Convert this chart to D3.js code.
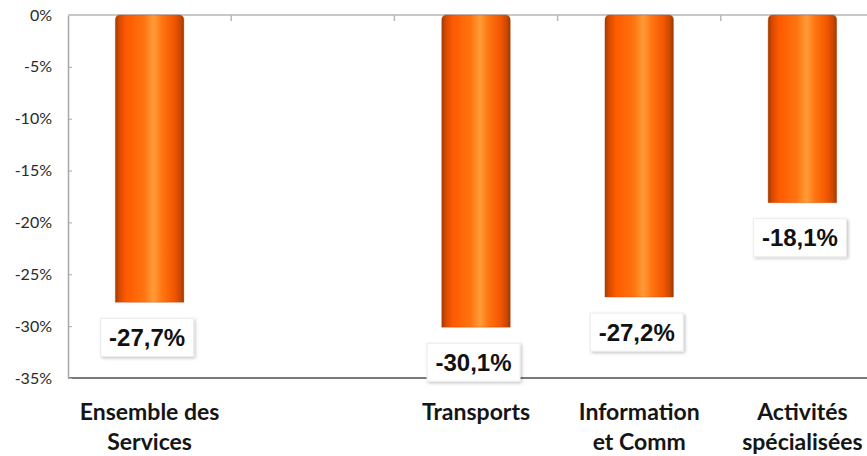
<!DOCTYPE html>
<html>
<head>
<meta charset="utf-8">
<script src="https://cdn.jsdelivr.net/npm/d3@7"></script>
<style>
  html, body { margin: 0; padding: 0; background: #fff; }
  svg { display: block; }
</style>
</head>
<body>
<svg id="chart" width="867" height="456"></svg>
<script>
// Sector categories (the blank one is an empty slot on the axis)
const categories = ["Ensemble des\nServices", " ", "Transports", "Information\net Comm", "Activités\nspécialisées"];
// Change in %, null where the slot has no bar
const values = [-27.7, null, -30.1, -27.2, -18.1];
// Value-axis tick values and their labels
const yTicks = [0, -5, -10, -15, -20, -25, -30, -35];
const yTickLabels = ["0%", "-5%", "-10%", "-15%", "-20%", "-25%", "-30%", "-35%"];

const svg = d3.select("#chart");
const W = 867;
const plotLeft = 68, plotRight = 884, plotTop = 15, plotBottom = 378;

const x = d3.scaleBand()
  .domain(categories)
  .range([plotLeft, plotRight])
  .paddingInner(0.58)
  .paddingOuter(0.29);

const y = d3.scaleLinear().domain([0, -35]).range([plotTop, plotBottom]);

// Cylinder-like horizontal shading for the bars
const defs = svg.append("defs");
const grad = defs.append("linearGradient").attr("id", "barGrad")
  .attr("x1", "0%").attr("x2", "100%").attr("y1", "0%").attr("y2", "0%");
[
  [0, "#a33a00"], [0.06, "#d84a00"], [0.16, "#ff5a00"], [0.42, "#ff7410"],
  [0.56, "#ff9c38"], [0.68, "#ff7612"], [0.86, "#f25600"], [0.95, "#c84800"], [1, "#9a3a00"]
].forEach(([o, c]) => grad.append("stop").attr("offset", o).attr("stop-color", c));

const shadow = defs.append("filter").attr("id", "boxShadow")
  .attr("x", "-20%").attr("y", "-20%").attr("width", "140%").attr("height", "140%");
shadow.append("feDropShadow").attr("dx", 1.5).attr("dy", 1.5).attr("stdDeviation", 1.5)
  .attr("flood-color", "#000").attr("flood-opacity", 0.22);

// Bottom frame line at -35%
svg.append("line")
  .attr("x1", plotLeft).attr("x2", W).attr("y1", y(-35)).attr("y2", y(-35))
  .attr("stroke", "#7a7a7a").attr("stroke-width", 2);

// Left value axis
const yAxis = d3.axisLeft(y)
  .tickValues(yTicks)
  .tickFormat((d, i) => yTickLabels[i])
  .tickSizeInner(-4).tickSizeOuter(0).tickPadding(16);
const gy = svg.append("g").attr("transform", `translate(${plotLeft},0)`).call(yAxis);
gy.select(".domain").attr("stroke", "#a8a8a8").attr("stroke-width", 1.5);
gy.selectAll(".tick line").attr("stroke", "#a8a8a8");
gy.selectAll(".tick text")
  .attr("font-family", "Lato, 'Open Sans', sans-serif")
  .attr("font-size", 16).attr("fill", "#2a2a2a");

// Top category axis at 0%
const boundaries = categories.map(c => x(c) - x.step() * x.paddingInner() / 2);
svg.append("line")
  .attr("x1", plotLeft).attr("x2", W).attr("y1", y(0)).attr("y2", y(0))
  .attr("stroke", "#c8c8c8").attr("stroke-width", 2);
svg.append("g").selectAll("line").data(boundaries.slice(1)).join("line")
  .attr("x1", d => d).attr("x2", d => d)
  .attr("y1", y(0)).attr("y2", y(0) + 6)
  .attr("stroke", "#b8b8b8").attr("stroke-width", 1.5);

// Bars hanging down from 0 with rounded top corners
const data = categories.map((c, i) => ({ c, v: values[i] })).filter(d => d.v !== null);
const r = 5;
svg.append("g").selectAll("path").data(data).join("path")
  .attr("d", d => {
    const x0 = x(d.c), x1 = x0 + x.bandwidth(), y0 = y(0), y1 = y(d.v);
    return `M${x0},${y1} L${x0},${y0 + r} Q${x0},${y0} ${x0 + r},${y0} L${x1 - r},${y0} Q${x1},${y0} ${x1},${y0 + r} L${x1},${y1} Z`;
  })
  .attr("fill", "url(#barGrad)")
  .attr("stroke", "#b04a10").attr("stroke-width", 0.6).attr("stroke-opacity", 0.6);

// Value labels in white boxes below each bar
const fmt = v => (v.toFixed(1).replace(".", ",")) + "%";
const boxW = 93, boxH = 38, gap = 16;
const labels = svg.append("g").selectAll("g").data(data).join("g")
  .attr("transform", d => `translate(${x(d.c) + x.bandwidth() / 2 - 2.5},${y(d.v) + gap})`);
labels.append("rect")
  .attr("x", -boxW / 2).attr("y", 0).attr("width", boxW).attr("height", boxH)
  .attr("fill", "#fff").attr("stroke", "#ececec").attr("stroke-width", 1)
  .attr("filter", "url(#boxShadow)");
labels.append("text")
  .attr("x", 0).attr("y", 27.5)
  .attr("text-anchor", "middle")
  .attr("font-family", "'Liberation Sans', Arial, sans-serif")
  .attr("font-weight", "bold").attr("font-size", 24).attr("fill", "#111")
  .text(d => fmt(d.v));

// Category names below the chart
const cat = svg.append("g").selectAll("text").data(categories).join("text")
  .attr("x", c => x(c) + x.bandwidth() / 2)
  .attr("y", 420)
  .attr("text-anchor", "middle")
  .attr("font-family", "Lato, 'Open Sans', sans-serif")
  .attr("font-weight", "bold").attr("font-size", 23).attr("fill", "#151515");
cat.each(function (c) {
  const lines = c.trim().split("\n");
  d3.select(this).selectAll("tspan").data(lines).join("tspan")
    .attr("x", x(c) + x.bandwidth() / 2)
    .attr("dy", (d, i) => i === 0 ? 0 : 30)
    .text(d => d);
});
</script>
</body>
</html>
